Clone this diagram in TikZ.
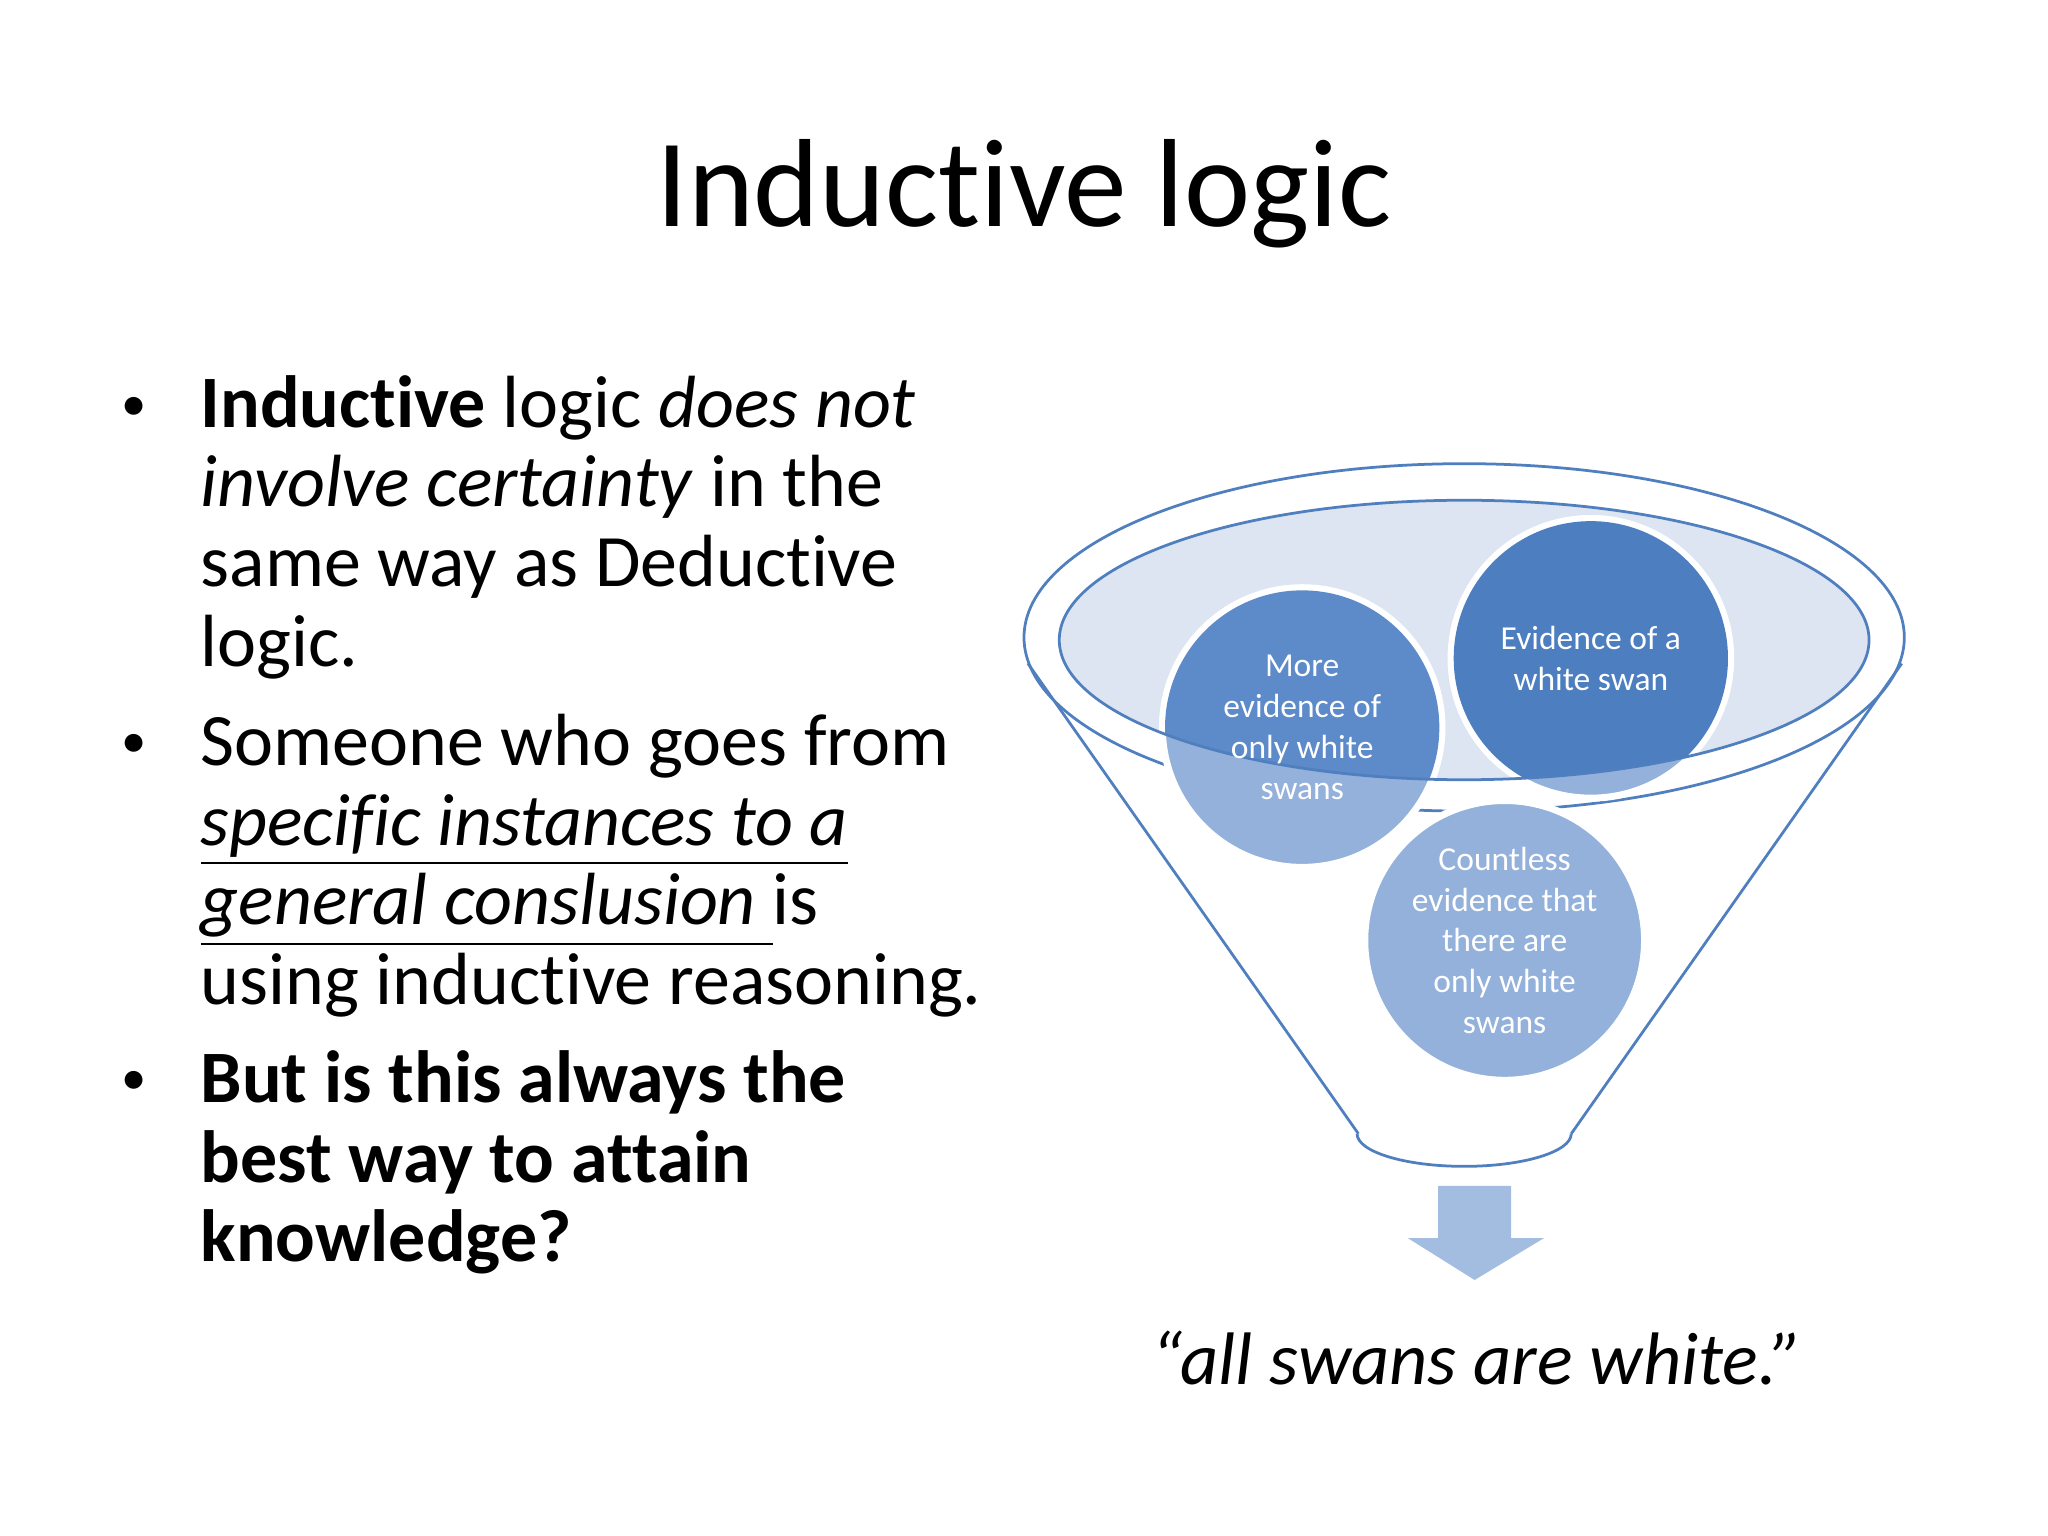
\documentclass[tikz,border=0pt]{standalone}
\usepackage{fontspec}
\setmainfont{Carlito}[Ligatures=NoCommon]
\begin{document}
\begin{tikzpicture}[x=0.01cm,y=-0.01cm,
  ln/.style={anchor=base west,inner sep=0,font=\fontsize{16.1}{19}\selectfont},
  bul/.style={anchor=base,inner sep=0,font=\fontsize{11}{13}\selectfont},
  ctext/.style={text=white,align=center,font=\fontsize{7.3}{8.9}\selectfont}]
\definecolor{fun}{HTML}{4F7FBE}
\definecolor{dk}{HTML}{4C7EC0}
\definecolor{md}{HTML}{5D8AC8}
\definecolor{lt}{HTML}{93B1DA}
\definecolor{ell}{HTML}{DCE5F1}
\useasboundingbox (0,0) rectangle (1568,1176);
\node[inner sep=0,font=\fontsize{27.3}{30}\selectfont] (title) at (784,148) {Inductive logic};
% bullets
\foreach \y/\n in {322/b1,580/b2,838/b3}{\node[bul] (\n) at (103,\y) {•};}
\node[ln] (l1) at (153,327) {\textbf{Inductive} logic \textit{does not}};
\node[ln] (l2) at (153,388) {\textit{involve certainty} in the};
\node[ln] (l3) at (153,449) {same way as Deductive};
\node[ln] (l4) at (153,510) {logic.};
\node[ln] (l5) at (153,586) {Someone who goes from};
\node[ln] (l6) at (153,647) {\underline{\textit{specific instances to a}}};
\node[ln] (l7) at (153,708) {\underline{\textit{general conslusion }}is};
\node[ln] (l8) at (153,769) {using inductive reasoning.};
\node[ln] (l9) at (153,844) {\textbf{But is this always the}};
\node[ln] (l10) at (153,905) {\textbf{best way to attain}};
\node[ln] (l11) at (153,966) {\textbf{knowledge?}};
% funnel
\draw[draw=fun,line width=0.6pt,fill=white] (1121,488) ellipse[x radius=337,y radius=133];
\draw[draw=fun,line width=0.6pt] (787,508) -- (1040,868);
\draw[draw=fun,line width=0.6pt] (1456,508) -- (1203,868);
\draw[draw=fun,line width=0.6pt] (1203,868) arc[start angle=0,end angle=-180,x radius=82,y radius=-25];
\fill[ell] (1121,490) ellipse[x radius=310,y radius=107];
% circles
\node[circle,fill=lt,draw=white,line width=1.5pt,minimum size=2.14cm] (c1) at (997,557) {};
\node[circle,fill=lt,draw=white,line width=1.5pt,minimum size=2.14cm] (c3) at (1152,720) {};
\node[circle,fill=lt,draw=white,line width=1.5pt,minimum size=2.14cm] (c2) at (1218,504) {};
\begin{scope}
\clip (1121,490) ellipse[x radius=310,y radius=107];
\fill[md] (997,557) circle[radius=105];
\fill[dk] (1218,504) circle[radius=105];
\end{scope}
\draw[fun,line width=0.6pt] (1121,490) ellipse[x radius=310,y radius=107];
\node[ctext] at (c1) {More\\evidence of\\only white\\swans};
\node[ctext] at (c2) {Evidence of a\\white swan};
\node[ctext] at (c3) {Countless\\evidence that\\there are\\only white\\swans};
% arrow
\fill[lt!85!white] (1101,908) -- (1157,908) -- (1157,948) -- (1182,948) -- (1129,980) -- (1078,948) -- (1101,948) -- cycle;
\node[inner sep=0,font=\fontsize{16.2}{20}\selectfont\itshape] (q) at (1131,1040) {“all swans are white.”};
\end{tikzpicture}
\end{document}
